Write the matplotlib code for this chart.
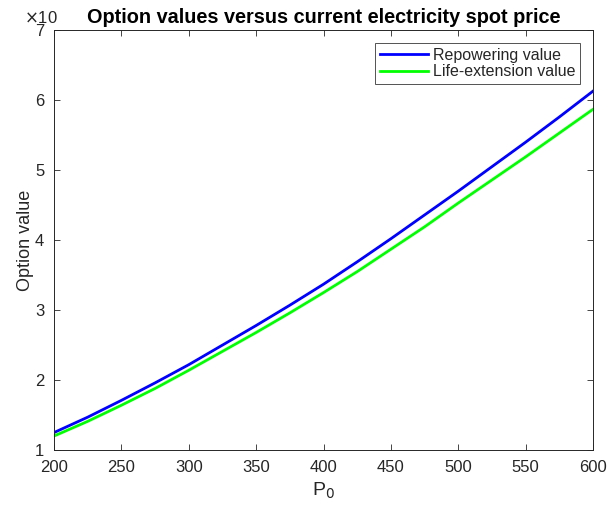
import matplotlib.pyplot as plt
import numpy as np

# 数据
p0 = [200, 225, 250, 275, 300, 325, 350, 375, 400,
      425, 450, 475, 500, 525, 550, 575, 600]
repower_val = [1.25, 1.47, 1.71, 1.96, 2.22, 2.50, 2.78, 3.07, 3.37,
               3.69, 4.02, 4.36, 4.70, 5.05, 5.40, 5.76, 6.13]
lifeext_val = [1.20, 1.41, 1.64, 1.88, 2.14, 2.41, 2.68, 2.96, 3.25,
               3.55, 3.87, 4.19, 4.53, 4.86, 5.19, 5.53, 5.87]

plt.rcParams['font.family'] = ['Liberation Sans', 'DejaVu Sans']
txt_col = '#262626'

fig = plt.figure(figsize=(6.07, 5.12), dpi=100)
ax = fig.add_axes([0.089, 0.121, 0.888, 0.820])

ax.plot(p0, repower_val, color=(0, 0, 1), linewidth=2, label='Repowering value')
ax.plot(p0, lifeext_val, color=(0, 1, 0), linewidth=2, label='Life-extension value')

ax.set_xlim(200, 600)
ax.set_ylim(1, 7)
ax.set_xticks(np.arange(200, 601, 50))
ax.set_yticks(np.arange(1, 8, 1))
ax.tick_params(direction='in', top=True, right=True, length=4, width=0.6,
               colors=txt_col, labelsize=12, pad=7)
for s in ax.spines.values():
    s.set_color(txt_col)
    s.set_linewidth(0.7)

ax.set_xlabel('P$_0$', fontsize=14, color=txt_col, labelpad=4)
ax.set_ylabel('Option value', fontsize=13, color=txt_col, labelpad=1)

# 指数标签（被标题遮住一部分）
fig.text(0.040, 0.950, r'$\times$10', fontsize=12, color=txt_col, va='bottom')
ax.set_title('Option values versus current electricity spot price',
             fontsize=14.3, fontweight='bold', color='black', pad=5)

leg = ax.legend(loc='upper right', fontsize=11.5, frameon=True, fancybox=False,
                borderpad=0.3, handlelength=3.0, handletextpad=0.3,
                labelspacing=0.1, borderaxespad=0.8)
leg.get_frame().set_edgecolor(txt_col)
leg.get_frame().set_linewidth(0.7)
for t in leg.get_texts():
    t.set_color(txt_col)

fig.savefig('out.png', dpi=100)
